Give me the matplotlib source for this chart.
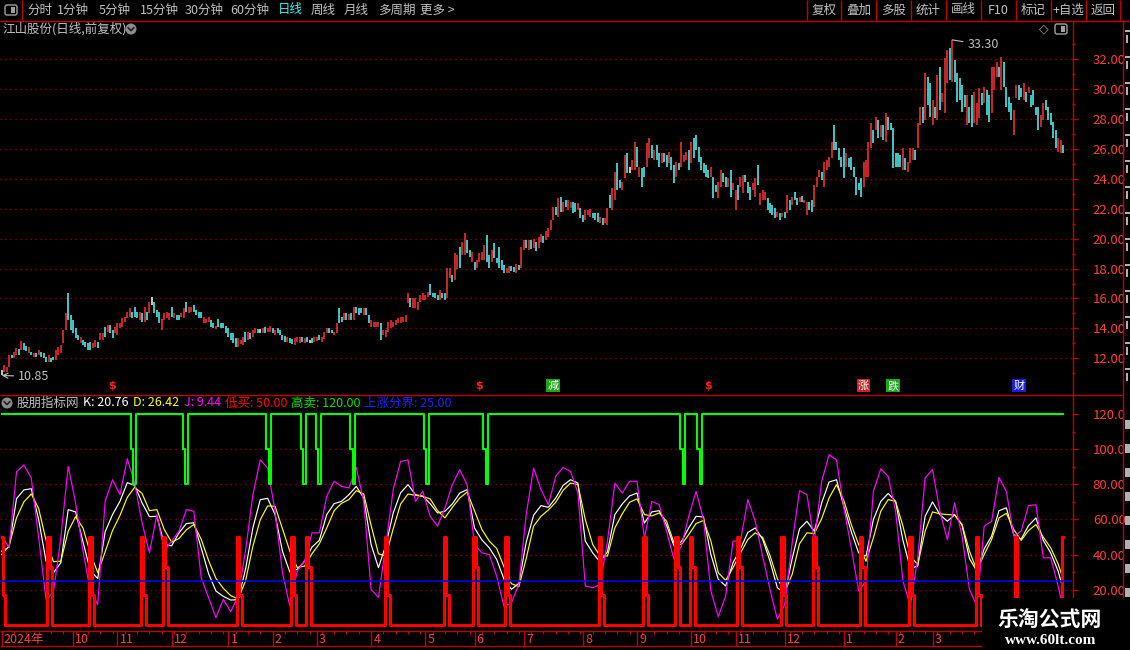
import numpy as np
import matplotlib
matplotlib.use("Agg")
import matplotlib.pyplot as plt
from matplotlib.patches import Rectangle, Circle, FancyBboxPatch
from matplotlib.ticker import FixedLocator, FuncFormatter

plt.rcParams['font.family'] = ['Noto Sans CJK SC', 'DejaVu Sans']

# ---- daily bars (low / high, r = up, c = down, w = flat) ----
bar_low = [
    10.85, 11.11, 11.11, 11.44, 12.0, 12.0, 12.22, 12.22, 12.56, 12.56,
    12.51, 12.38, 12.22, 12.11, 12.11, 12.22, 12.11, 12.0, 11.78, 11.78,
    11.78, 11.89, 11.89, 12.22, 12.33, 13.0, 13.9, 14.56, 13.9, 13.67,
    13.34, 13.23, 13.0, 12.89, 12.78, 12.56, 12.56, 12.67, 12.78, 12.67,
    13.23, 13.23, 13.45, 13.78, 13.67, 13.34, 13.67, 13.56, 14.01, 14.12,
    14.45, 14.68, 14.79, 14.68, 14.79, 14.68, 14.56, 14.45, 14.45, 14.56,
    15.01, 15.57, 15.01, 14.79, 14.34, 13.9, 14.56, 14.68, 14.56, 14.79,
    14.68, 14.56, 14.56, 14.74, 14.68, 15.12, 15.01, 15.12, 15.12, 14.9,
    14.68, 14.68, 14.34, 14.34, 14.45, 14.12, 14.01, 13.94, 14.12, 14.01,
    14.01, 13.67, 13.45, 13.23, 13.0, 12.78, 12.78, 12.96, 12.89, 13.11,
    13.23, 13.27, 13.45, 13.67, 13.67, 13.72, 13.72, 13.72, 13.78, 13.78,
    13.67, 13.56, 13.67, 13.56, 13.23, 13.11, 13.11, 13.05, 12.96, 12.89,
    13.11, 13.05, 13.11, 13.0, 13.11, 13.0, 13.05, 13.11, 13.18, 13.23,
    13.11, 13.27, 13.67, 13.67, 13.67, 13.56, 13.67, 14.34, 14.45, 14.56,
    14.56, 14.56, 14.56, 14.56, 15.01, 14.9, 15.01, 14.9, 14.9, 14.34,
    14.12, 14.12, 14.12, 14.12, 13.23, 13.56, 13.45, 13.78, 14.01, 14.12,
    14.23, 14.34, 14.34, 14.45, 14.45, 15.68, 15.46, 15.34, 15.34, 15.23,
    15.79, 15.9, 15.9, 16.12, 16.24, 16.08, 16.01, 15.9, 15.9, 16.01,
    15.9, 16.01, 17.35, 17.13, 17.24, 17.95, 18.02, 18.91, 18.91, 19.02,
    18.8, 18.47, 17.91, 18.02, 18.47, 18.58, 18.58, 18.47, 18.02, 18.47,
    18.69, 18.35, 18.02, 17.91, 17.69, 17.69, 17.73, 17.86, 17.8, 17.73,
    17.91, 18.02, 19.25, 19.36, 19.25, 19.3, 19.4, 19.2, 19.4, 19.8,
    19.7, 19.9, 20.1, 20.58, 21.25, 21.58, 21.47, 21.81, 21.81, 22.14,
    21.92, 22.03, 21.7, 21.81, 21.92, 21.36, 21.14, 21.25, 21.58, 21.47,
    21.36, 21.25, 21.14, 21.03, 20.91, 21.03, 20.91, 22.03, 21.92, 22.59,
    23.26, 23.37, 23.26, 24.04, 24.37, 24.37, 24.6, 24.6, 24.82, 24.15,
    23.48, 24.15, 24.82, 25.37, 25.37, 25.27, 25.27, 24.82, 25.04, 25.15,
    24.82, 25.04, 24.6, 23.7, 24.15, 24.6, 24.82, 25.15, 25.27, 24.6,
    25.04, 25.37, 25.93, 25.15, 24.6, 24.37, 24.15, 24.04, 24.15, 22.7,
    23.14, 22.7, 23.48, 23.81, 23.48, 23.48, 22.81, 23.26, 21.92, 22.59,
    23.48, 23.03, 23.81, 23.03, 22.59, 23.26, 22.81, 23.59, 22.25, 22.59,
    22.59, 21.92, 21.7, 21.58, 21.36, 21.47, 21.25, 21.47, 21.36, 21.7,
    21.92, 22.25, 22.59, 22.25, 22.48, 22.48, 22.37, 21.58, 21.92, 21.81,
    22.14, 23.48, 24.15, 23.93, 23.48, 24.6, 24.82, 25.37, 25.93, 25.93,
    25.27, 24.82, 24.04, 24.82, 24.82, 24.6, 24.15, 22.92, 23.26, 22.81,
    23.48, 24.15, 24.15, 26.04, 26.38, 27.27, 26.71, 26.82, 26.6, 26.49,
    27.27, 27.27, 24.71, 24.82, 24.82, 24.82, 24.6, 24.6, 24.48, 25.04,
    25.27, 25.27, 26.04, 27.6, 27.72, 27.94, 28.94, 28.16, 27.6, 28.05,
    27.94, 28.61, 29.17, 28.38, 30.39, 30.62, 30.5, 30.5, 29.17, 29.28,
    28.5, 28.83, 27.6, 27.72, 27.49, 27.72, 27.6, 28.05, 28.94, 29.05,
    28.27, 27.83, 28.38, 29.94, 30.84, 30.84, 29.94, 30.17, 28.83, 28.5,
    27.94, 26.94, 29.39, 29.28, 29.5, 29.28, 29.17, 29.72, 28.83, 28.94,
    28.27, 27.27, 27.49, 27.94, 28.61, 27.94, 27.6, 26.71, 26.04, 25.82,
    25.71, 25.71,
]
bar_high = [
    11.22, 11.55, 11.44, 12.22, 12.22, 12.45, 12.67, 12.6, 13.16, 13.0,
    12.82, 12.74, 12.45, 12.38, 12.33, 12.56, 12.45, 12.38, 12.11, 12.22,
    12.04, 12.11, 12.56, 12.78, 12.89, 13.9, 15.01, 16.35, 14.9, 14.56,
    14.01, 13.56, 13.45, 13.23, 13.11, 13.0, 13.11, 13.05, 13.23, 13.11,
    13.67, 13.67, 14.12, 14.23, 14.23, 13.9, 14.12, 14.34, 14.34, 14.68,
    14.79, 15.12, 15.34, 15.12, 15.46, 15.12, 15.12, 15.01, 15.46, 15.12,
    15.79, 16.12, 15.79, 15.23, 15.12, 14.61, 15.01, 15.07, 15.01, 15.46,
    15.01, 14.9, 14.9, 15.01, 15.34, 15.79, 15.46, 15.46, 15.57, 15.23,
    15.12, 15.07, 14.79, 14.61, 14.79, 14.56, 14.34, 14.16, 14.61, 14.39,
    14.34, 14.16, 14.01, 13.67, 13.67, 13.34, 13.34, 13.23, 13.45, 13.78,
    13.78, 13.72, 13.9, 14.01, 13.94, 13.94, 14.01, 14.12, 14.01, 14.16,
    14.01, 13.9, 14.01, 13.9, 13.56, 13.5, 13.45, 13.34, 13.27, 13.34,
    13.45, 13.45, 13.45, 13.34, 13.45, 13.23, 13.34, 13.45, 13.45, 13.56,
    13.45, 13.78, 14.01, 14.01, 13.9, 13.78, 14.34, 15.34, 14.79, 15.01,
    15.01, 14.97, 15.01, 15.46, 15.46, 15.34, 15.34, 15.34, 15.34, 14.9,
    14.56, 14.45, 14.45, 14.45, 14.34, 13.9, 13.9, 14.45, 14.56, 14.45,
    14.56, 14.68, 14.79, 14.79, 14.9, 16.35, 16.01, 16.01, 16.01, 15.79,
    16.24, 16.35, 16.24, 16.46, 16.97, 16.35, 16.35, 16.24, 16.57, 16.35,
    16.35, 18.02, 18.02, 17.57, 19.02, 18.91, 19.47, 19.8, 20.36, 19.92,
    19.25, 19.13, 18.47, 18.58, 19.02, 19.13, 19.58, 20.25, 18.91, 19.25,
    19.69, 18.69, 19.47, 18.58, 18.24, 18.02, 18.18, 18.18, 18.13, 18.3,
    18.24, 19.47, 19.92, 19.92, 19.92, 19.9, 20.0, 19.8, 20.1, 20.3,
    20.2, 20.5, 20.7, 21.25, 22.14, 22.14, 22.7, 22.81, 22.48, 22.59,
    22.59, 22.48, 22.48, 22.37, 22.37, 22.03, 21.58, 21.92, 21.92, 21.96,
    21.74, 21.7, 21.7, 21.47, 21.36, 21.36, 22.03, 22.92, 23.37, 24.48,
    25.04, 23.93, 23.81, 25.6, 25.71, 24.82, 25.27, 26.49, 26.16, 24.82,
    24.71, 24.82, 26.38, 26.71, 26.27, 25.93, 26.27, 25.71, 25.71, 25.71,
    25.6, 25.82, 25.49, 24.93, 25.15, 25.04, 26.49, 25.6, 25.82, 25.93,
    26.49, 26.71, 26.94, 26.16, 25.49, 25.04, 24.93, 24.6, 24.82, 24.15,
    23.59, 23.81, 24.6, 24.37, 24.15, 24.04, 24.6, 23.7, 23.26, 23.59,
    24.15, 24.26, 24.26, 23.81, 23.48, 23.7, 24.04, 24.93, 23.03, 23.26,
    23.14, 22.7, 22.37, 22.25, 22.03, 21.81, 21.7, 21.7, 21.81, 22.92,
    22.59, 22.81, 23.14, 22.7, 22.81, 22.88, 22.59, 22.48, 22.48, 22.59,
    23.59, 24.15, 24.6, 24.48, 25.15, 25.27, 25.49, 26.49, 27.6, 26.49,
    26.04, 25.49, 26.04, 25.71, 25.37, 25.49, 24.82, 24.15, 23.7, 24.04,
    25.15, 25.27, 26.49, 27.72, 27.27, 28.16, 27.94, 27.6, 27.6, 28.38,
    28.16, 27.72, 27.38, 25.71, 25.71, 25.6, 26.04, 25.37, 25.15, 26.04,
    26.04, 25.93, 27.72, 28.83, 28.83, 31.06, 30.84, 30.39, 29.28, 28.83,
    30.95, 31.51, 29.72, 32.06, 32.62, 32.73, 33.3, 31.95, 31.06, 30.73,
    30.28, 29.61, 29.61, 28.83, 29.61, 29.83, 29.05, 30.06, 29.72, 30.17,
    29.94, 29.61, 31.51, 31.51, 31.84, 31.51, 32.18, 31.84, 30.17, 29.5,
    29.05, 28.61, 30.28, 30.28, 30.06, 30.39, 29.83, 30.17, 29.61, 29.94,
    28.83, 28.83, 28.27, 29.05, 29.28, 28.83, 28.38, 27.83, 27.27, 26.71,
    26.6, 26.27,
]
bar_dir = (
    "wrrrcrrcrc" "crcrcrcccr" "ccrrrrrccc" "ccrccccrrc" "rrcrccrrrr"
    "rrrcccrcrc" "rwcccrrrrc" "rccrrcrrcc" "ccrrrccrcc" "ccccccrrrc"
    "rcrrcwrcrr" "crccccrccr" "rrcrcwcrrc" "rrrccrrccr" "crcrcccrcc"
    "rrrrcrrrrr" "rrrrrrcrrr" "rrrrccccrc" "crrcrrcrrc" "crcrrrrccr"
    "cccccrrccr" "crrcr" "crcrrcrr"
    "rrcrcrcrrc" "crccrrrccc" "rcrrcrrccr" "rcwrrcrccr" "rcrccrccrc"
    "crcrrrcrcc" "cccccrccrr" "ccrcrrcrrc" "ccrrcrrrcc" "ccrcrcrcrc"
    "crcrrccrrr" "crrrrccccc" "rccccccrrr" "rcrcrcrccc" "cccrcrrrcr"
    "rcrccrcrcr" "rrcrcccccr" "ccrrrcrccr" "rrcrccccrr" "ccrcrccccr"
    "rcccccrrc"
)

# ---- KDJ, read every third bar ----
kdj_bars = list(range(0, 430, 3)) + [431]
k_vals = [
    42, 44.3, 71.8, 76.8, 77.5, 60, 36.3, 29.7, 35.4, 65.6,
    64.3, 47.3, 30.7, 26.5, 53, 62.8, 70.3, 80.9, 79.4, 69.4,
    61.6, 61.8, 45.8, 45, 52.4, 57.7, 58.1, 43.9, 29.2, 19.3,
    16.3, 14.2, 14.4, 31.6, 55.2, 71.3, 72, 62.8, 42, 30.1,
    31.6, 36.3, 44.3, 48.2, 62.8, 69, 70.3, 74.1, 78.8, 72.2,
    45.8, 32.6, 45.4, 63.7, 75.2, 79.8, 74.1, 73.2, 69, 63.7,
    64.7, 68.8, 75, 77, 55.2, 48.4, 43.9, 37.3, 26, 20.3,
    23.7, 47.1, 62.4,
    67.9, 66.9, 72.2, 79.4, 82.6, 80.7, 47.7, 41, 35.8, 41.6,
    62.8, 68.8, 73.4, 75, 57.9, 64.3, 65, 56.7, 45, 47.3,
    55.2, 61.8, 61.4, 40.1, 26, 22.2, 35.4, 43.3, 52.6, 55.2,
    48.8, 36.3, 21.2, 17.8, 37.7, 54.7, 59, 53.3, 69.4, 81.3,
    82.6, 67.5, 53.1, 41, 39.2, 60, 70.3, 74.8, 70.3, 48.1,
    32.2, 33.5, 61.8, 70, 62.8, 59, 62.6, 56.7, 37.8, 30.7,
    43.3, 50.5, 65, 66.6, 51.4, 48.8, 56.5, 60.9, 48.1, 41,
    30.7, 20.76,
]
d_vals = [
    40.1, 45, 60.9, 70, 74.5, 66.2, 48.1, 36, 36.3, 53.3,
    61.6, 55.2, 40.9, 29.7, 41.6, 53.7, 62.2, 72.6, 78.3, 74.8,
    65, 65.6, 54.3, 47.1, 49.2, 54.1, 57.1, 48.8, 36.7, 26.5,
    20.8, 16.7, 14.8, 25, 44.8, 59.9, 67.7, 67.5, 54.8, 42,
    32.7, 33.5, 40.5, 46.2, 55.2, 65, 69.2, 71.3, 76.4, 74.5,
    56.7, 40.5, 39.2, 54.8, 68.8, 74.5, 73.7, 73.2, 71.7, 65,
    60.9, 66.9, 72.2, 75.6, 65, 54.3, 47.7, 43.5, 33, 23.5,
    21.8, 37.8, 56.2,
    61.8, 65.4, 69.8, 76.6, 80.7, 79.8, 59.9, 45.8, 39.2, 39.2,
    55.2, 63.2, 69.8, 71.7, 62.8, 62, 63.7, 59, 46.7, 45.8,
    51.4, 57.7, 59.4, 47.7, 29.7, 25.4, 32.6, 40.9, 48.6, 52.4,
    49.9, 39.5, 26.3, 18.8, 28.8, 46.2, 52.4, 52, 60.5, 72.2,
    79.8, 70.7, 57.1, 45.8, 36.3, 49.6, 64.7, 71.3, 70.3, 56.2,
    39.2, 34.4, 53.3, 64.3, 63.2, 62.8, 62.6, 57.1, 42, 31.2,
    40.1, 48.6, 60.9, 63.5, 54.3, 48.1, 53.7, 57.1, 49.9, 43.9,
    34.8, 26.42,
]
j_vals = [
    50.5, 44, 87, 91, 83.6, 49.6, 14.6, 18.4, 49.6, 90.2,
    69.4, 42, 19.3, 11.8, 70.3, 82.6, 74.1, 94.5, 80.7, 58.1,
    41, 62.8, 42, 47.7, 53.3, 65.6, 64.7, 26.9, 15.6, 4.2,
    14.6, 7.6, 16.5, 42, 74.1, 93.9, 89.2, 64.7, 29.7, 10.8,
    30.7, 36.3, 52.4, 52.4, 73.2, 81.7, 78.8, 77.9, 89.6, 70.3,
    20.3, 15.6, 45.8, 77, 93, 93.9, 70.3, 76, 61.8, 56.2,
    66.6, 79.8, 88.3, 79.8, 45.8, 41, 40.1, 27.8, 10.3, 12.7,
    23.1, 62.8, 89.2,
    77, 68.4, 84.5, 89.6, 87.3, 75, 22.2, 21.2, 23.1, 47.7,
    80.7, 75, 81.7, 81.7, 49.6, 70.3, 68.4, 53.3, 37.3, 44.8,
    61.8, 76, 60, 19.3, 4.8, 16.5, 47.7, 47.7, 71.3, 59,
    39.2, 20.3, 3.3, 11.8, 46.7, 76.4, 74.1, 47.7, 81.7, 96.8,
    93.9, 66.6, 43.9, 19.3, 25, 76, 88.8, 84.5, 64.7, 25,
    10.8, 38.2, 83.6, 88.3, 64.7, 48.6, 69.4, 50.5, 20.3, 10.8,
    56.2, 59, 83.9, 76, 50.5, 53.3, 67.9, 68.4, 38.2, 38.2,
    22.2, 9.44,
]

# ---- signal lines ----
buy_level = 50
sell_level = 120
boundary_level = 25
buy_bars = [0, 19, 36, 57, 66, 96, 118, 124, 156, 180, 192, 205,
            243, 261, 274, 280, 299, 317, 330, 349, 369, 396, 412, 431]
buy_tail = [17, 33, 17, 17, 33, 17, 17, 33, 17, 17, 33, 17,
            17, 17, 33, 33, 33, 17, 33, 33, 17, 17, 0, 0]
sell_bars = [54, 75, 109, 123, 129, 143, 173, 197, 277, 284]
sell_mid = 100
sell_low = 80

# ---- axis labels and markers ----
month_bars = [0, 29, 47, 69, 92, 110, 128, 150, 172, 192, 212, 236,
              258, 280, 298, 318, 342, 363, 378]
month_labels = ['2024年', '10', '11', '12', '1', '2', '3', '4', '5', '6',
                '7', '8', '9', '10', '11', '12', '1', '2', '3']
flag_bars = [45, 194, 224, 287, 350, 362, 413]
flag_text = ['$', '$', '减', '$', '涨', '跌', '财']
flag_bg = [None, None, '#1aa81a', None, '#d02020', '#1aa81a', '#1c1cd8']

tool_left = ['分时', '1分钟', '5分钟', '15分钟', '30分钟', '60分钟',
             '日线', '周线', '月线', '多周期', '更多 >']
tool_right = ['复权', '叠加', '多股', '统计', '画线', 'F10', '标记', '+自选', '返回']

assert len(bar_low) == len(bar_high) == len(bar_dir)
assert len(kdj_bars) == len(k_vals) == len(d_vals) == len(j_vals)

W, H = 1130, 650
RED_AX = '#c00000'
GRID = '#a00000'
LABEL = '#ff3c3c'
TXT = '#c0c0c0'
UP = '#ff3232'
DOWN = '#54fcfc'


def frame(x0, y0, x1, y1):
    return [x0 / W, 1 - y1 / H, (x1 - x0) / W, (y1 - y0) / H]


def clean(a):
    a.set_facecolor('black')
    for s in a.spines.values():
        s.set_visible(False)
    a.set_xticks([])


N = len(bar_low)
xs = np.arange(N)
xlim = (-0.7, N + 2.65)

fig = plt.figure(figsize=(11.3, 6.5), dpi=100, facecolor='black')

# ---- price panel ----
ax = fig.add_axes(frame(0, 20, 1072, 394))
clean(ax)
ax.set_xlim(*xlim)
ax.set_ylim(9.61, 34.63)
cmap = {'r': UP, 'c': DOWN, 'w': 'white'}
ax.vlines(xs, bar_low, bar_high, colors=[cmap[c] for c in bar_dir], linewidth=1.1)
ax.yaxis.tick_right()
ax.yaxis.set_major_locator(FixedLocator(list(range(12, 33, 2))))
ax.yaxis.set_minor_locator(FixedLocator(list(range(11, 34, 2))))
ax.yaxis.set_major_formatter(FuncFormatter(lambda v, p: f'{v:.2f}'))
ax.tick_params(axis='y', which='major', length=4, width=1, color=RED_AX,
               labelcolor=LABEL, labelsize=9.5, pad=11)
ax.tick_params(axis='y', which='minor', length=2, width=1, color=RED_AX)
ax.grid(axis='y', which='major', color=GRID, lw=0.9, ls=(0, (1, 3)))

lo_i = int(np.argmin(bar_low))
hi_i = int(np.argmax(bar_high))
ax.annotate(f'{bar_low[lo_i]:.2f}', xy=(lo_i, bar_low[lo_i]), xytext=(16, -1),
            textcoords='offset pixels', color=TXT, fontsize=9, va='center',
            arrowprops=dict(arrowstyle='->', color=TXT, lw=0.8, shrinkA=1, shrinkB=0))
ax.annotate(f'{bar_high[hi_i]:.2f}', xy=(hi_i, bar_high[hi_i]), xytext=(15, -5),
            textcoords='offset pixels', color=TXT, fontsize=9, va='center',
            arrowprops=dict(arrowstyle='-', color=TXT, lw=0.8, shrinkA=1, shrinkB=0))

for b, t, bg in zip(flag_bars, flag_text, flag_bg):
    if bg is None:
        ax.text(b, 0.022, t, transform=ax.get_xaxis_transform(), color='#ff2020',
                fontsize=8, fontweight='bold', ha='center', va='center',
                family=['DejaVu Sans'])
    else:
        ax.text(b, 0.022, t, transform=ax.get_xaxis_transform(), color='white',
                fontsize=8, ha='center', va='center',
                bbox=dict(boxstyle='square,pad=0.12', fc=bg, ec='none'))

# ---- indicator panel ----
lo = fig.add_axes(frame(0, 395, 1072, 628))
clean(lo)
lo.set_xlim(*xlim)
lo.set_ylim(-1.7, 130.76)
for lv in [20, 40, 60, 80, 100]:
    lo.axhline(lv, color=GRID, lw=0.9, ls=(0, (1, 3)), zorder=0)

red_line = np.zeros(N)
for b, t in zip(buy_bars, buy_tail):
    red_line[b] = buy_level
    if t and b + 1 < N:
        red_line[b + 1] = t
green_line = np.full(N, float(sell_level))
for b in sell_bars:
    green_line[b - 1] = sell_mid
    green_line[b] = sell_low

lo.plot(kdj_bars, k_vals, color='white', lw=0.85)
lo.plot(kdj_bars, d_vals, color='#ffff00', lw=0.85)
lo.plot(kdj_bars, j_vals, color='#ff00ff', lw=0.85)
lo.plot(xs, red_line, color='#ff0000', lw=2.2, drawstyle='steps-mid')
lo.plot(xs, green_line, color='#00ff00', lw=1.5, drawstyle='steps-mid')
lo.axhline(boundary_level, color='#0000ff', lw=1.1)

lo.yaxis.tick_right()
lo.yaxis.set_major_locator(FixedLocator([20, 40, 60, 80, 100, 120]))
lo.yaxis.set_minor_locator(FixedLocator([30, 50, 70, 90, 110]))
lo.yaxis.set_major_formatter(FuncFormatter(
    lambda v, p: f'{v:.1f}' if v >= 100 else f'{v:.2f}'))
lo.tick_params(axis='y', which='major', length=4, width=1, color=RED_AX,
               labelcolor=LABEL, labelsize=9.5, pad=11)
lo.tick_params(axis='y', which='minor', length=2, width=1, color=RED_AX)

# ---- date strip ----
da = fig.add_axes(frame(0, 631, 1072, 646))
clean(da)
da.set_yticks([])
da.set_xlim(*xlim)
da.set_ylim(0, 1)
da.vlines(np.arange(0, N, 5), 0.82, 1.0, color=RED_AX, lw=0.8)
for b, lab in zip(month_bars, month_labels):
    da.axvline(b, color=RED_AX, lw=1)
    da.text(b + 0.9, 0.45, lab, color=LABEL, fontsize=9, ha='left', va='center')

# ---- chrome overlay in pixel coordinates ----
ov = fig.add_axes([0, 0, 1, 1], zorder=10)
ov.set_xlim(0, W)
ov.set_ylim(H, 0)
ov.axis('off')
ov.patch.set_alpha(0)


def hline(y, x0, x1, lw=1.0):
    ov.plot([x0, x1], [y, y], color=RED_AX, lw=lw, solid_capstyle='butt')


def vline(x, y0, y1, lw=1.0):
    ov.plot([x, x], [y0, y1], color=RED_AX, lw=lw, solid_capstyle='butt')


hline(20.5, 0, W)
vline(22, 0, 20)
seps = [807, 841, 876, 911, 946, 981, 1016, 1051, 1085.5, 1120]
for xb in seps:
    vline(xb, 0, 20)
hline(394.5, 0, 1122)
vline(1072.5, 20, 646)
vline(1122.5, 20, H)
hline(630.5, 0, 1122)
hline(646, 0, 1122)


def panel_icon(x, y):
    ov.add_patch(FancyBboxPatch((x, y), 12, 10, boxstyle='round,pad=0,rounding_size=2',
                                fc='none', ec='#a0a0a0', lw=1))
    ov.add_patch(Rectangle((x + 6, y + 2), 4, 6, fc='#a0a0a0', ec='none'))


def drop_icon(x, y):
    ov.add_patch(Circle((x, y), 5.5, fc='#8c8c8c', ec='none'))
    ov.plot([x - 2.8, x, x + 2.8], [y - 1.2, y + 1.6, y - 1.2], color='#202020', lw=1.2)


panel_icon(5, 5)
tool_x = [27, 57, 99, 140, 185, 230, 278, 311, 344, 378, 420]
for tx, t in zip(tool_x, tool_left):
    ov.text(tx, 10, t, color='#3cf0f0' if t == '日线' else TXT, fontsize=9,
            ha='left', va='center')
for i, t in enumerate(tool_right):
    ov.text((seps[i] + seps[i + 1]) / 2, 10, t, color=TXT, fontsize=9,
            ha='center', va='center')

ov.text(2, 29, '江山股份(日线,前复权)', color=TXT, fontsize=9, ha='left', va='center')
drop_icon(131, 29)
ov.text(1044, 29, '◇', color='#a0a0a0', fontsize=9, ha='center', va='center',
        family=['DejaVu Sans'])
panel_icon(1055, 24)

drop_icon(7, 403)
legend = [('股朋指标网', TXT, 17),
          (f'K: {k_vals[-1]:.2f}', 'white', 83),
          (f'D: {d_vals[-1]:.2f}', '#ffff00', 133),
          (f'J: {j_vals[-1]:.2f}', '#ff00ff', 184),
          (f'低买: {buy_level:.2f}', '#ff0000', 225),
          (f'高卖: {sell_level:.2f}', '#00e000', 291),
          (f'上涨分界: {boundary_level:.2f}', '#2020ff', 364)]
for t, c, lx in legend:
    ov.text(lx, 403, t, color=c, fontsize=9, ha='left', va='center')

# cut-off side bar on the far right: just the visible slivers
for k in range(14):
    ov.add_patch(Rectangle((1125, 30 + k * 26), 5, 2, fc='#b0b0b0', ec='none'))
    ov.add_patch(Rectangle((1126, 35 + k * 26), 1.5, 8, fc='#b0b0b0', ec='none'))
for k in range(8):
    ov.add_patch(Rectangle((1125, 420 + k * 24), 5, 9, fc='#b0b0b0', ec='none'))

# watermark
ov.add_patch(Rectangle((982, 598), 148, 52, fc='black', ec='none', zorder=5))
ov.text(1050, 619, '乐淘公式网', color='white', fontsize=15, fontweight='bold',
        ha='center', va='center', zorder=6)
ov.text(1051, 640, 'www.60lt.com', color='white', fontsize=11, fontweight='bold',
        ha='center', va='center', family=['Liberation Serif'], zorder=6)

fig.savefig('out.png', dpi=100, facecolor='black')
